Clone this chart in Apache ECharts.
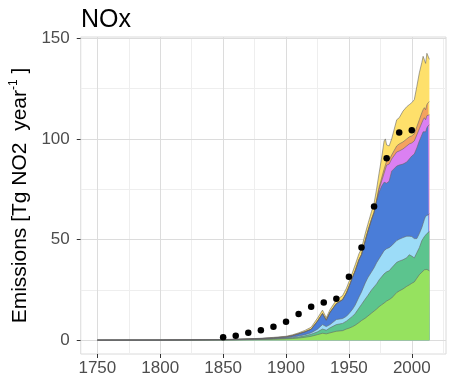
<!DOCTYPE html>
<html><head><meta charset="utf-8">
<script src="https://cdn.jsdelivr.net/npm/echarts@6/dist/echarts.min.js"></script>
<style>html,body{margin:0;padding:0;background:#fff}#c{width:450px;height:390px}</style>
</head><body><div id="c"></div>
<script>
// Years at which the stacked outlines were read
const years = [1750,1800,1825,1850,1860,1870,1880,1890,1900,1905,1910,1915,1920,1925,1929,1932,1935,1940,1945,1948,1950,1953,1955,1958,1960,1963,1965,1968,1970,1972,1974,1976,1978,1979,1980,1982,1984,1988,1990,1993,1996,1998,2000,2002,2004,2006,2008,2009,2010,2011,2012,2013,2014];
// Cumulative top of each band (Tg NO2 / year), bottom band first
const lightGreenTop = [0.05,0.07,0.1,0.15,0.2,0.3,0.4,0.55,0.7,0.85,1.1,1.5,2.0,2.8,3.5,3.2,3.7,4.5,4.8,5.6,6.0,6.8,7.5,8.8,9.8,11,12,13.5,14.5,15.5,16.7,17.6,18.5,19,19.5,20.2,21,23.7,24.5,25.5,26.8,27.5,28.3,29,30.8,32.6,33.8,34.5,35,35.5,35.2,34.8,34.5];
const greenTop = [0.08,0.1,0.14,0.22,0.3,0.42,0.55,0.75,1.0,1.3,1.6,2.2,3.0,4.2,5.6,5.0,6.2,7.8,8.4,9.5,10.5,12,13.3,16,17.8,20.5,22.2,25,26.5,28,30,31.5,33,33.5,34,34.5,36,38.7,39.3,40,41,42.5,41.8,40.9,43.5,46,49.5,50.5,51.5,52,53,53.5,54];
const lightBlueTop = [0.1,0.12,0.17,0.26,0.36,0.5,0.65,0.9,1.25,1.6,2.1,2.8,3.7,5.5,7.8,6.8,7.8,10.3,10.8,11.9,13.2,15.5,17.5,21.5,24,28.5,31,34,36,38.5,40.5,42.5,44.5,45,45.5,46,47,49.5,50.2,51,51.7,51.7,51.5,50.5,50.5,53,56,58,60,61.6,62,62.3,62.8];
const blueTop = [0.12,0.16,0.23,0.33,0.45,0.65,0.85,1.2,1.7,2.3,3.2,4.2,5.5,9.5,13.3,10,13.9,18.2,20.2,23.5,26.5,31.5,34.5,40,42.5,49.5,54,60,63.5,69,73.5,76.5,78.5,78.5,78,79,84,86.5,87,87.5,88.5,90,91.5,92.5,95.5,99,102,103.5,104,103.5,105.5,106.5,107];
const purpleTop = [0.12,0.16,0.23,0.33,0.45,0.65,0.85,1.2,1.7,2.3,3.2,4.2,5.5,9.5,13.3,10,13.9,18.2,20.2,23.5,26.5,31.5,34.5,40,42.5,49.5,54,60,63.5,69.3,75,79,83,85,87,87.5,90,93.5,94,95,96.5,97.5,98,99,102,105,108,109.5,110.5,109.5,111.5,112,112];
const orangeTop = [0.12,0.16,0.23,0.33,0.45,0.65,0.85,1.2,1.7,2.3,3.2,4.2,5.5,9.5,13.3,10,13.9,18.2,20.2,23.5,26.5,31.5,34.5,40,42.5,49.5,54,60,63.5,69.6,76,80.5,85,87,89,89.5,92,96.5,97.5,98.5,100,101,101.5,102.5,106,109.5,113,114.5,115.5,114.5,117,118,118.5];
const yellowTop = [0.15,0.2,0.28,0.4,0.55,0.75,1.0,1.45,2.0,2.7,3.7,4.9,6.5,11,15,11.2,15.3,20,22.2,25.8,29,34,37.5,43,45.5,53,57.5,64,68,75,83,90.5,99,100,97,96.5,100,109.5,110.5,113.8,116,117,118,119.5,126,132.8,138,141,141.5,137.5,142.5,142,139.5];
// Black points
const pointYears = [1850,1860,1870,1880,1890,1900,1910,1920,1930,1940,1950,1960,1970,1980,1990,2000];
const pointValues = [1.5,2.3,3.7,5.0,6.7,9.2,13.1,16.6,18.8,20.6,31.5,46.1,66.4,90.4,103.2,104.3];
// Ticks / grid
const xMajor = [1750,1800,1850,1900,1950,2000];
const xMinor = [1775,1825,1875,1925,1975,2025];
const yMajor = [0,50,100,150];
const yMinor = [25,75,125];

const font = '"Liberation Sans", Arial, Helvetica, sans-serif';
const pairs = ys => years.map((y, i) => [y, ys[i]]);
const bands = [
  {data: yellowTop, color: '#FEE06B'},
  {data: orangeTop, color: '#F4A25E'},
  {data: purpleTop, color: '#DB80F2'},
  {data: blueTop, color: '#4A7DD8'},
  {data: lightBlueTop, color: '#9CDCF8'},
  {data: greenTop, color: '#5CC48E'},
  {data: lightGreenTop, color: '#96E25F'}
];
const series = bands.map(b => ({
  type: 'line', data: pairs(b.data), symbol: 'none', smooth: false,
  lineStyle: {color: '#666', width: 0.6},
  areaStyle: {color: b.color, opacity: 1},
  z: 2, silent: true
}));
const gridLines = [];
xMinor.forEach(v => gridLines.push({xAxis: v, lineStyle: {color: '#eeeeee', width: 1, type: 'solid'}}));
yMinor.forEach(v => gridLines.push({yAxis: v, lineStyle: {color: '#eeeeee', width: 1, type: 'solid'}}));
xMajor.forEach(v => gridLines.push({xAxis: v, lineStyle: {color: '#dcdcdc', width: 1, type: 'solid'}}));
yMajor.forEach(v => gridLines.push({yAxis: v, lineStyle: {color: '#dcdcdc', width: 1, type: 'solid'}}));
series.push({
  type: 'scatter', data: pointYears.map((y, i) => [y, pointValues[i]]),
  symbol: 'circle', symbolSize: 6.5, itemStyle: {color: '#000', opacity: 1}, z: 5, silent: true,
  markLine: {silent: true, symbol: ['none', 'none'], z: 1, animation: false, label: {show: false}, data: gridLines}
});

const chart = echarts.init(document.getElementById('c'));
chart.setOption({
  animation: false,
  title: {text: 'NOx', left: 76, top: 3, textStyle: {fontFamily: font, fontSize: 25, fontWeight: 'normal', color: '#000'}},
  grid: {left: 79, right: 4, top: 37, bottom: 36, show: true, borderColor: '#dadada', borderWidth: 1, backgroundColor: '#fff'},
  xAxis: {
    type: 'value', min: 1736.8, max: 2027.2,
    axisLine: {show: false, onZero: false}, splitLine: {show: false},
    axisTick: {show: true, length: 4, lineStyle: {color: '#333', width: 1}, customValues: xMajor},
    axisLabel: {customValues: xMajor, formatter: v => String(v), color: '#4d4d4d', fontSize: 17, fontFamily: font, margin: 6}
  },
  yAxis: {
    type: 'value', min: -6.8, max: 150.6,
    axisLine: {show: false}, splitLine: {show: false},
    axisTick: {show: true, length: 4, lineStyle: {color: '#333', width: 1}, customValues: yMajor},
    axisLabel: {customValues: yMajor, formatter: v => String(v), color: '#4d4d4d', fontSize: 17, fontFamily: font, margin: 11},
    name: '{a|Emissions [Tg NO2  year}{s|-1}{a| ]}',
    nameLocation: 'middle', nameRotate: 90, nameGap: 48,
    nameTextStyle: {
      color: '#000', fontFamily: font, fontSize: 21,
      rich: {
        a: {fontSize: 21, fontFamily: font, color: '#000', lineHeight: 24},
        s: {fontSize: 12, fontFamily: font, color: '#000', verticalAlign: 'top', lineHeight: 24}
      }
    }
  },
  series: series
});
</script></body></html>
